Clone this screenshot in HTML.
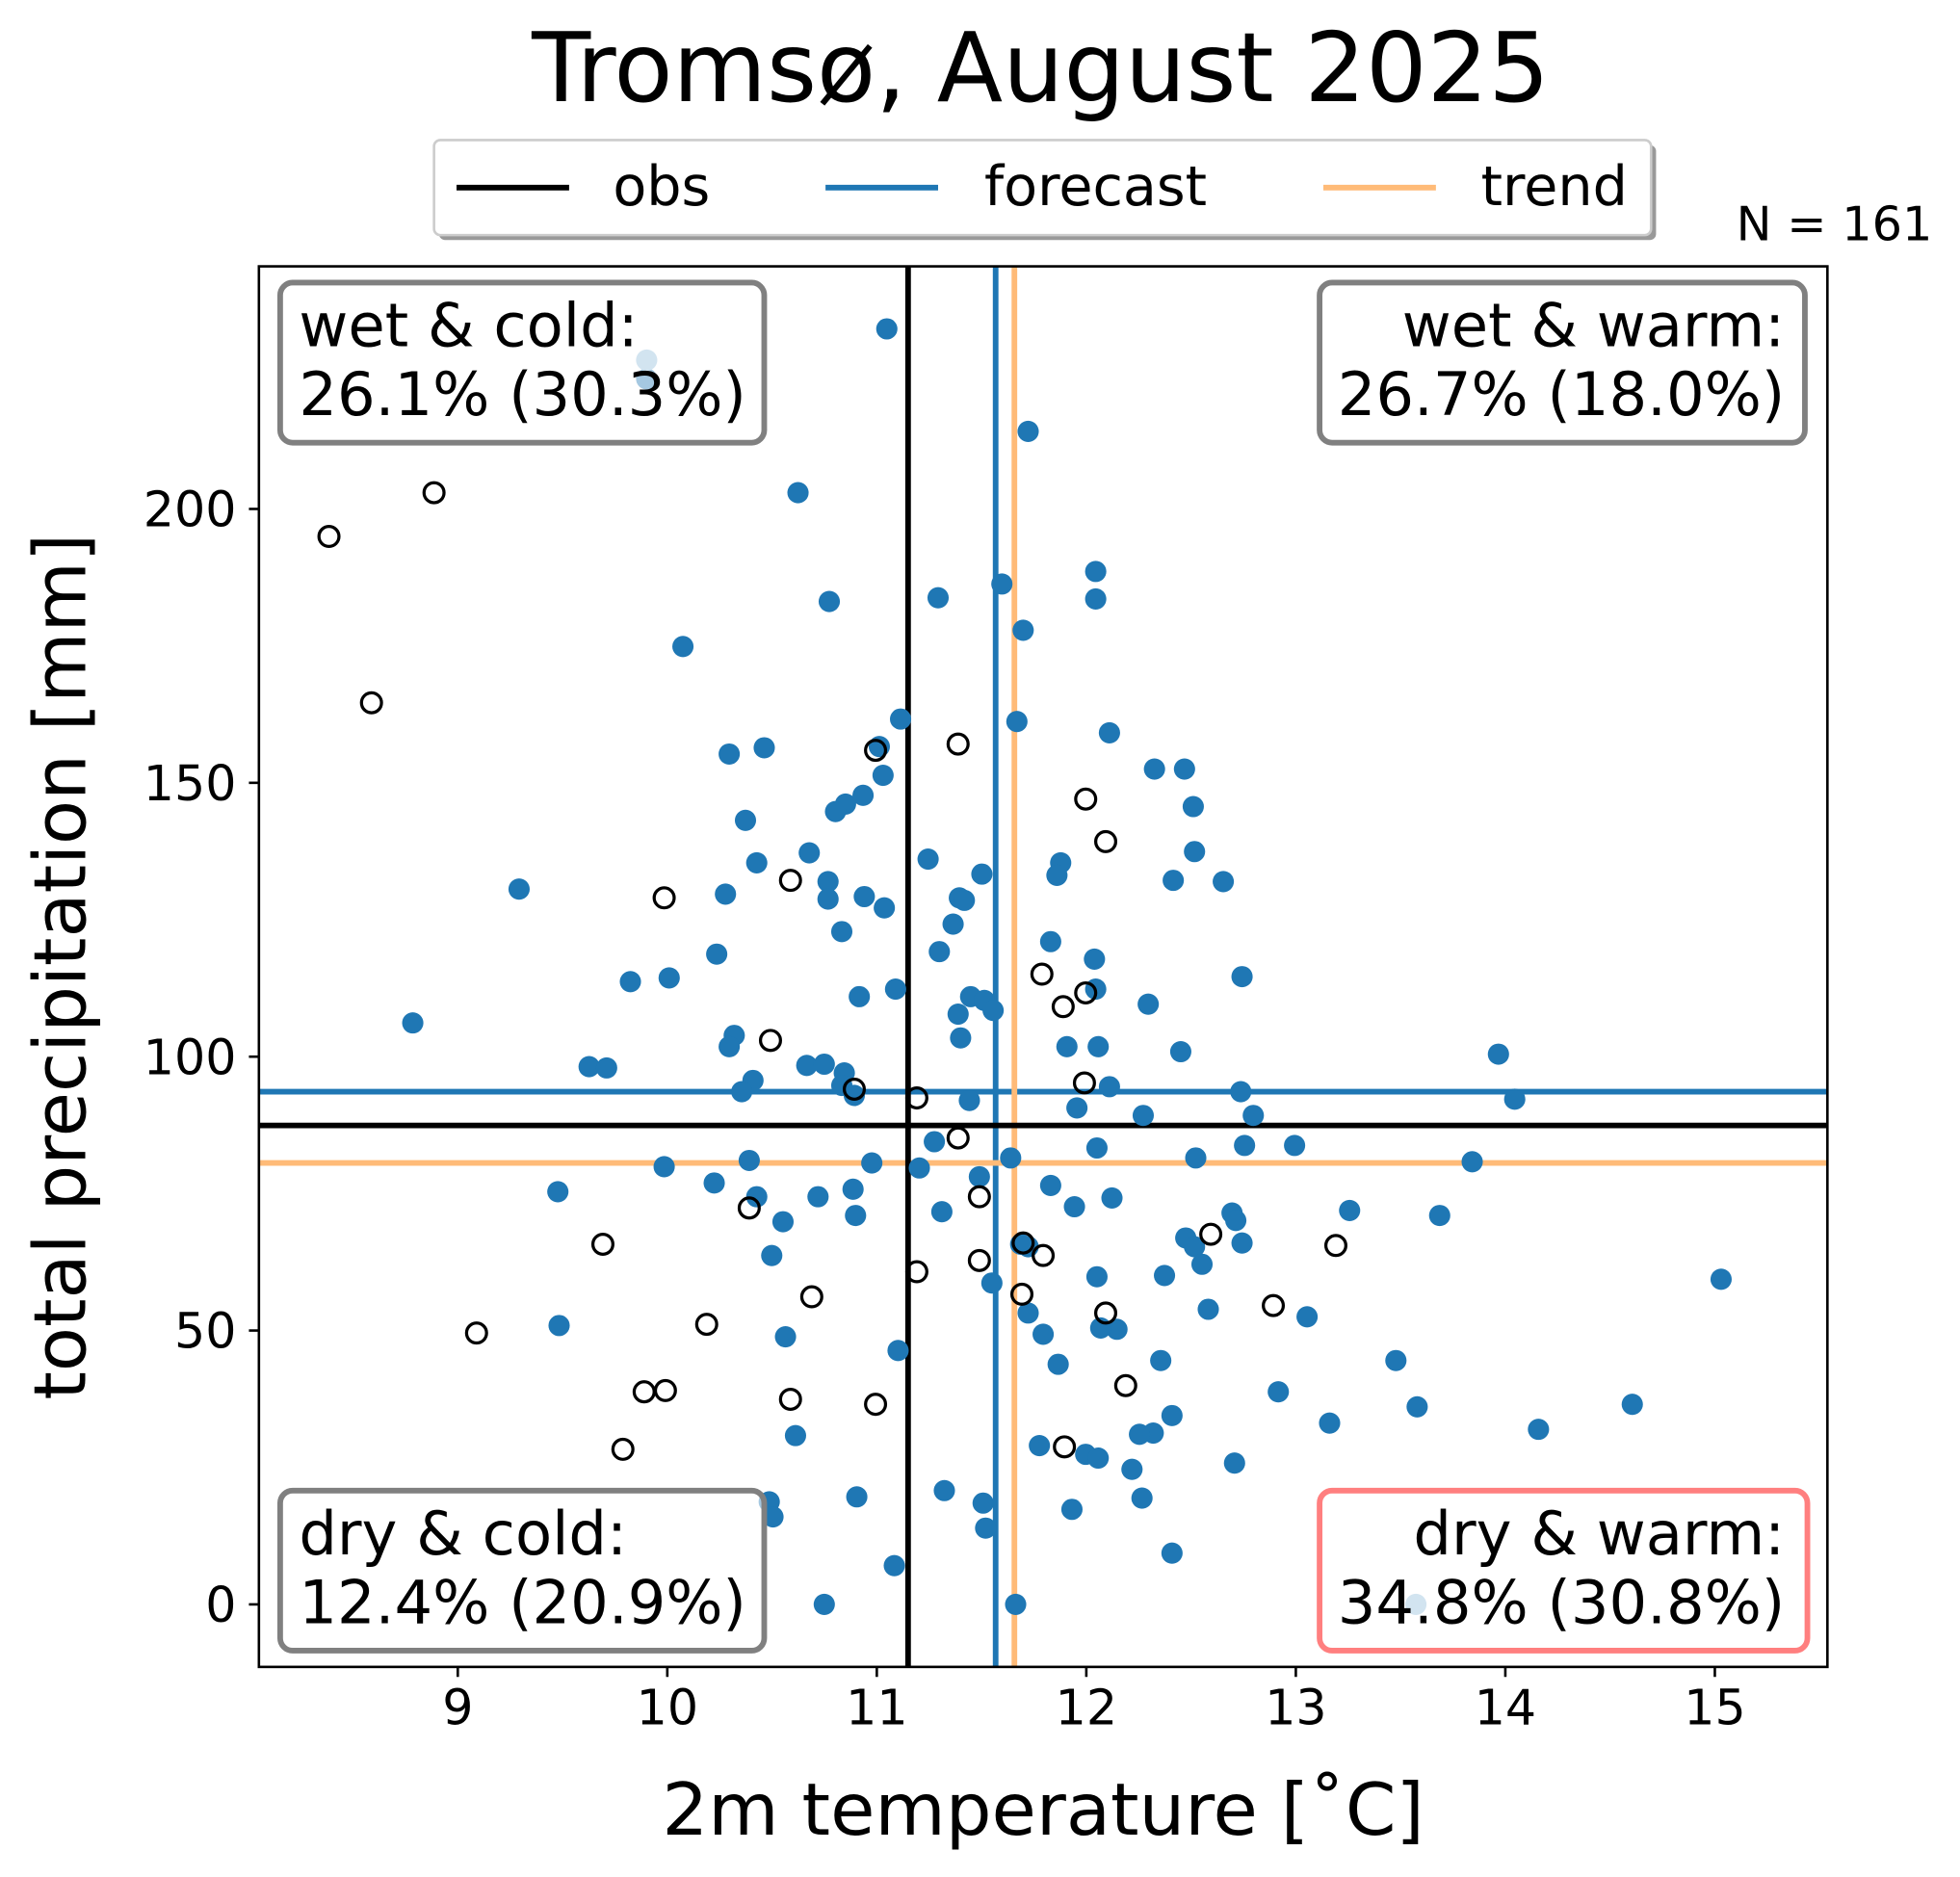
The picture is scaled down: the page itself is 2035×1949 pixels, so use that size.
<!DOCTYPE html>
<html><head><meta charset="utf-8"><style>html,body{margin:0;padding:0;background:#fff}svg{display:block}text{font-family:"DejaVu Sans","Liberation Sans",sans-serif;fill:#000}</style></head><body>
<svg width="2035" height="1949" viewBox="0 0 1567 1501" preserveAspectRatio="none" xmlns="http://www.w3.org/2000/svg">
<rect width="1567" height="1501" fill="#fff"/>
<text x="832" y="81" font-size="77" text-anchor="middle">Tromsø, August 2025</text>
<rect x="351" y="116" width="973" height="76" rx="5" fill="#999"/>
<rect x="347" y="112" width="973" height="76" rx="5" fill="#fff" stroke="#ccc" stroke-width="2"/>
<line x1="365" y1="150" x2="455" y2="150" stroke="#000" stroke-width="4.5"/>
<text x="490" y="164" font-size="44">obs</text>
<line x1="660" y1="150" x2="750" y2="150" stroke="#1f77b4" stroke-width="4.5"/>
<text x="787" y="164" font-size="44">forecast</text>
<line x1="1058" y1="150" x2="1148" y2="150" stroke="#ffbb78" stroke-width="4.5"/>
<text x="1184" y="164" font-size="44">trend</text>
<text x="1545" y="192" font-size="38" text-anchor="end">N = 161</text>
<g stroke="#1f77b4" stroke-width="4.5"><line x1="796" y1="213" x2="796" y2="1333"/><line x1="207" y1="873" x2="1461" y2="873"/></g>
<g stroke="#ffbb78" stroke-width="4.5"><line x1="811" y1="213" x2="811" y2="1333"/><line x1="207" y1="930" x2="1461" y2="930"/></g>
<g stroke="#000" stroke-width="4.5"><line x1="726" y1="213" x2="726" y2="1333"/><line x1="207" y1="900" x2="1461" y2="900"/></g>
<g fill="#1f77b4" id="pts"></g>
<g fill="none" stroke="#000" stroke-width="2.5" id="opn"></g>
<circle cx="517" cy="288" r="8.5" fill="#8fbbd9"/><circle cx="1132" cy="1283" r="8.5" fill="#8fbbd9"/>
<rect x="207" y="213" width="1254" height="1120" fill="none" stroke="#000" stroke-width="2"/>
<g font-size="48">
<rect x="224" y="226" width="387" height="128" rx="10" fill="#fff" fill-opacity="0.6" stroke="#808080" stroke-width="4.5"/>
<text x="239" y="277">wet &amp; cold:</text><text x="239" y="332">26.1% (30.3%)</text>
<rect x="1055" y="226" width="388" height="128" rx="10" fill="#fff" fill-opacity="0.6" stroke="#808080" stroke-width="4.5"/>
<text x="1427" y="277" text-anchor="end">wet &amp; warm:</text><text x="1427" y="332" text-anchor="end">26.7% (18.0%)</text>
<rect x="224" y="1192" width="387" height="128" rx="10" fill="#fff" fill-opacity="0.6" stroke="#808080" stroke-width="4.5"/>
<text x="239" y="1243">dry &amp; cold:</text><text x="239" y="1298">12.4% (20.9%)</text>
<rect x="1055" y="1192" width="390" height="128" rx="10" fill="#fff" fill-opacity="0.6" stroke="#ff7f7f" stroke-width="4.5"/>
<text x="1427" y="1243" text-anchor="end">dry &amp; warm:</text><text x="1427" y="1298" text-anchor="end">34.8% (30.8%)</text>
</g>
<g font-size="39" text-anchor="middle" id="xt"></g>
<g font-size="39" text-anchor="end" id="yt"></g>
<text x="834" y="1467" font-size="58" text-anchor="middle">2m temperature [˚C]</text>
<text transform="translate(68,773) rotate(-90)" font-size="58" text-anchor="middle">total precipitation [mm]</text>
<script>
var ns="http://www.w3.org/2000/svg";
var B=[[709,263],[822,345],[638,394],[663,481],[546,517],[750,478],[801,467],[818,504],[876,457],[876,479],[720,575],[813,577],[887,586],[583,603],[611,598],[703,597],[706,620],[690,636],[676,643],[668,649],[596,656],[923,615],[947,615],[954,645],[955,681],[938,704],[978,705],[848,690],[845,700],[742,687],[785,699],[767,718],[771,720],[762,739],[647,682],[605,690],[662,705],[662,719],[691,717],[707,726],[415,711],[580,715],[573,763],[673,745],[751,761],[840,753],[875,767],[504,785],[535,782],[716,791],[687,797],[776,797],[787,800],[794,808],[766,811],[768,830],[918,803],[993,781],[876,791],[878,837],[853,837],[587,828],[583,837],[330,818],[471,853],[485,854],[602,864],[593,873],[645,852],[659,851],[675,858],[673,868],[683,876],[944,841],[887,869],[861,886],[775,880],[914,892],[992,873],[1002,892],[1198,843],[1211,879],[599,928],[571,946],[605,957],[626,977],[617,1004],[654,957],[682,951],[684,972],[697,930],[735,934],[747,913],[753,969],[783,941],[808,926],[840,948],[877,918],[889,958],[859,965],[956,926],[995,916],[1035,916],[1177,929],[1151,972],[1079,968],[985,970],[988,976],[993,994],[948,990],[955,997],[961,1011],[966,1047],[931,1020],[877,1021],[816,995],[822,997],[793,1026],[446,953],[531,933],[447,1060],[628,1069],[718,1080],[822,1050],[834,1067],[893,1063],[880,1062],[846,1091],[928,1088],[937,1132],[922,1146],[911,1147],[1045,1053],[1116,1088],[1022,1113],[1063,1138],[1133,1125],[1230,1143],[1305,1123],[1376,1023],[636,1148],[615,1201],[618,1213],[685,1197],[755,1192],[786,1202],[788,1222],[831,1156],[868,1163],[878,1166],[905,1175],[987,1170],[913,1198],[857,1207],[937,1242],[715,1252],[659,1283],[812,1283],[517,303]];
var O=[[263,429],[347,394],[297,562],[700,600],[766,595],[868,639],[884,673],[632,704],[531,718],[833,779],[850,805],[868,794],[867,866],[616,832],[683,871],[733,878],[766,910],[783,957],[599,966],[482,995],[818,994],[834,1004],[968,987],[1068,996],[783,1008],[733,1017],[649,1037],[817,1035],[884,1050],[565,1059],[381,1066],[1018,1044],[515,1113],[532,1112],[632,1119],[700,1123],[900,1108],[498,1159],[851,1157]];
function c(g,p,r){var e=document.createElementNS(ns,"circle");e.setAttribute("cx",p[0]);e.setAttribute("cy",p[1]);e.setAttribute("r",r);g.appendChild(e);}
var g1=document.getElementById("pts");B.forEach(function(p){c(g1,p,8.5)});
var g2=document.getElementById("opn");O.forEach(function(p){c(g2,p,8)});
function t(g,x,y,s){var e=document.createElementNS(ns,"text");e.setAttribute("x",x);e.setAttribute("y",y);e.textContent=s;g.appendChild(e);}
function l(x1,y1,x2,y2){var e=document.createElementNS(ns,"line");e.setAttribute("x1",x1);e.setAttribute("y1",y1);e.setAttribute("x2",x2);e.setAttribute("y2",y2);e.setAttribute("stroke","#000");e.setAttribute("stroke-width","2");document.querySelector("svg").appendChild(e);}
var xt=document.getElementById("xt");
for(var v=9;v<=15;v++){var x=366+(v-9)*167.5;l(x,1333,x,1341);t(xt,x,1379,v);}
var yt=document.getElementById("yt");
for(var m=0;m<=200;m+=50){var y=1283-m*4.38;l(199,y,207,y);t(yt,189,y+14,m);}
</script>
</svg>
</body></html>
